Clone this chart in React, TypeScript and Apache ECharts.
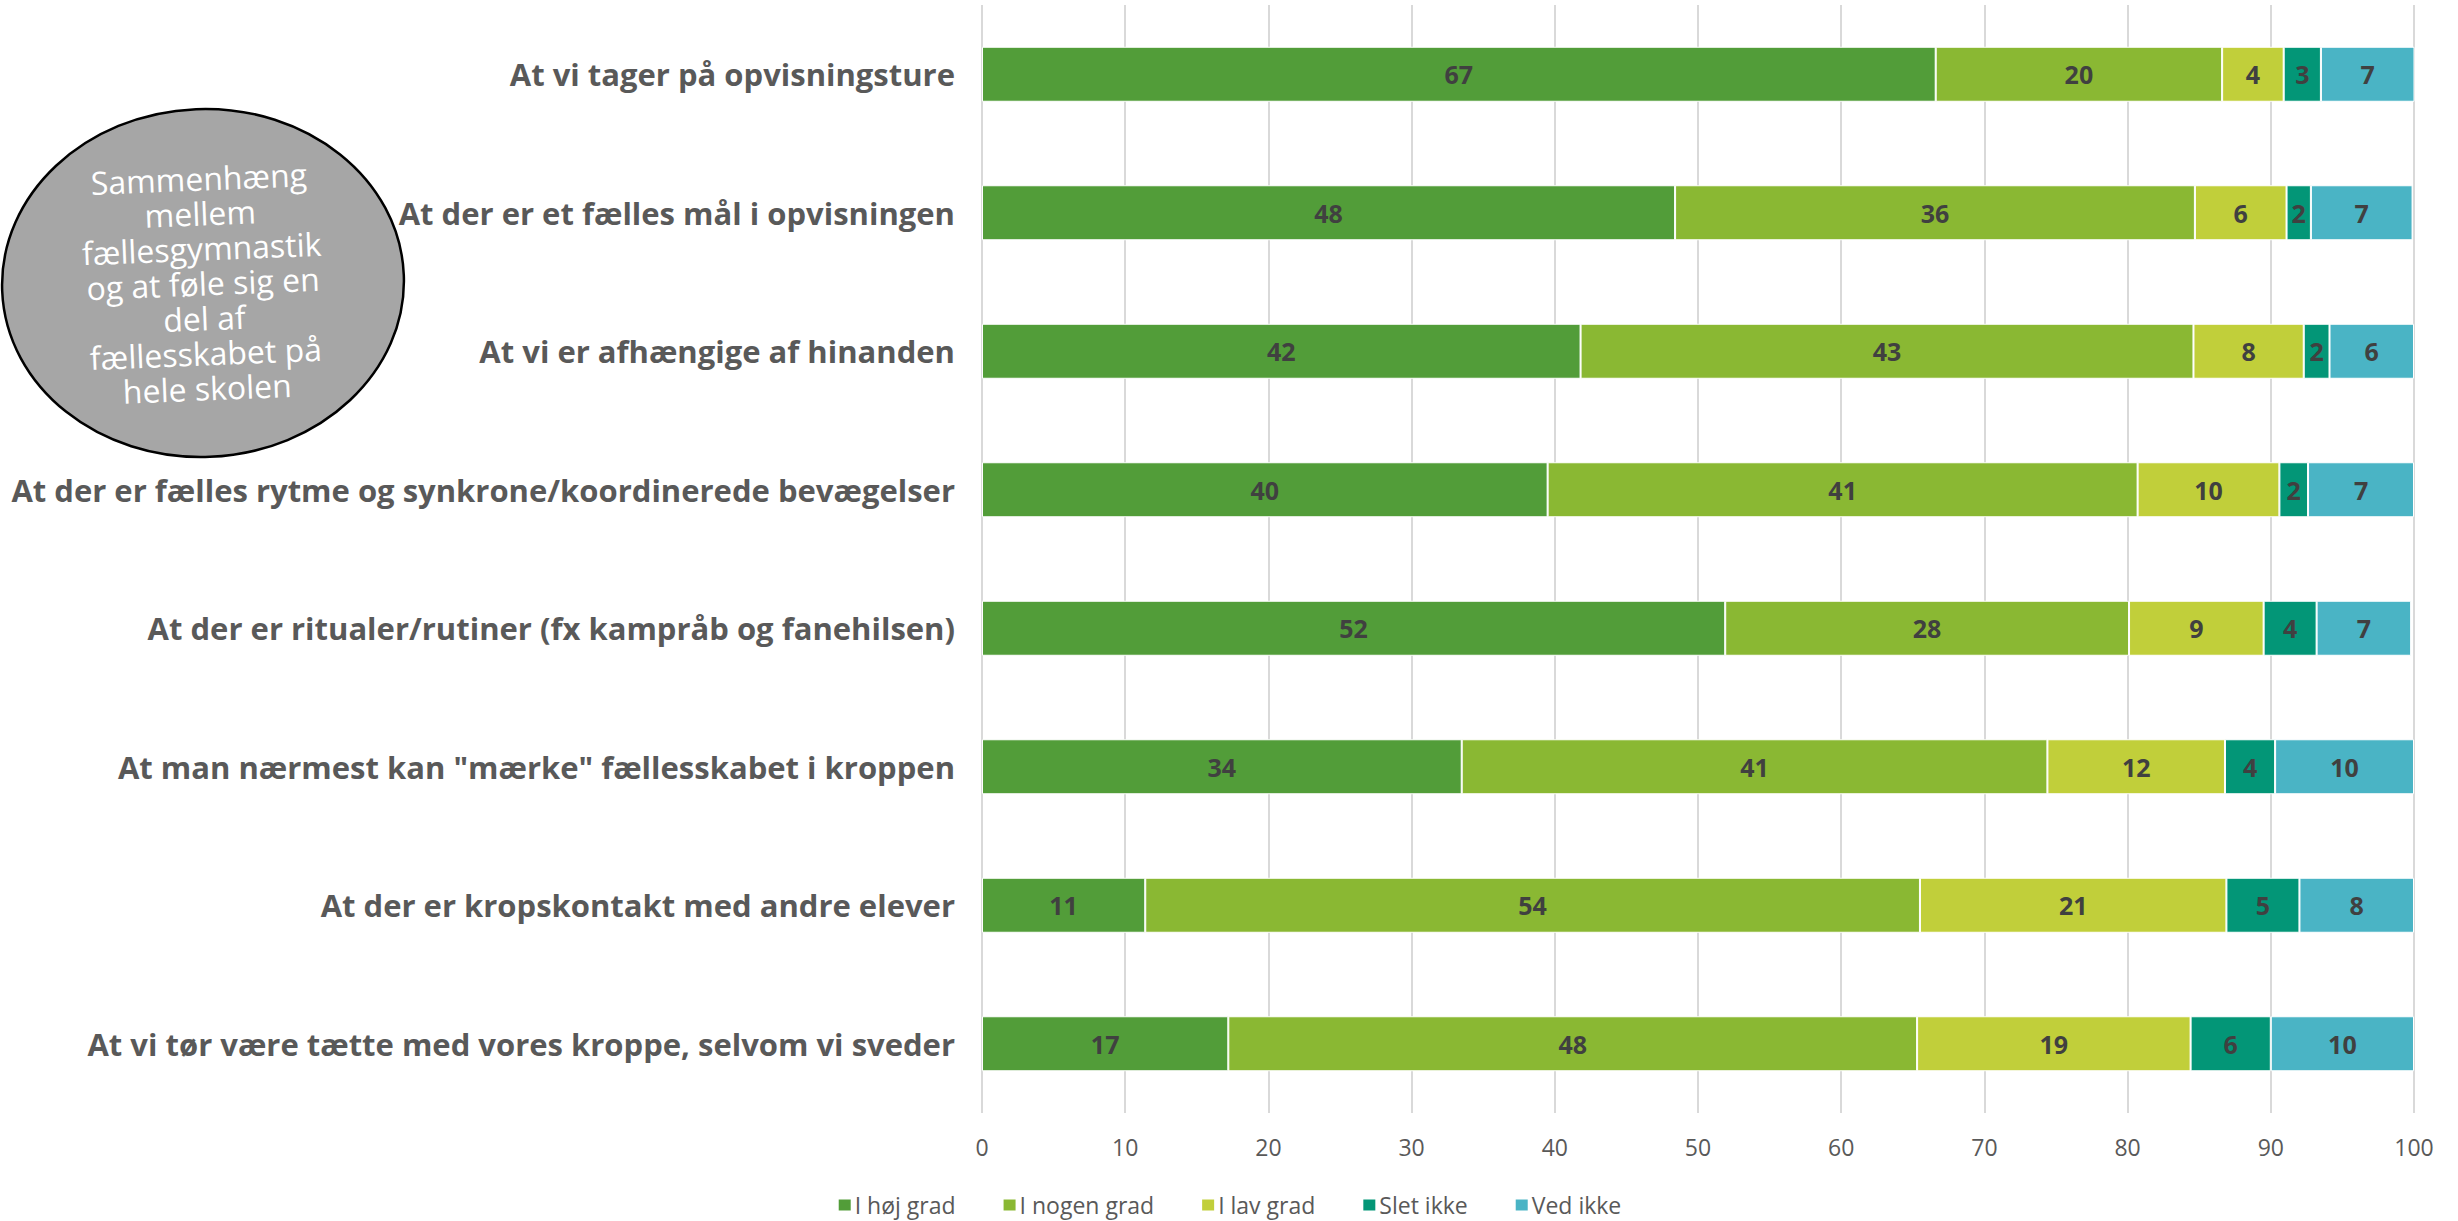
import React, { useEffect, useRef } from "react";
import * as echarts from "echarts";

const categories = [
  "At vi tager på opvisningsture",
  "At der er et fælles mål i opvisningen",
  "At vi er afhængige af hinanden",
  "At der er fælles rytme og synkrone/koordinerede bevægelser",
  "At der er ritualer/rutiner (fx kampråb og fanehilsen)",
  'At man nærmest kan "mærke" fællesskabet i kroppen',
  "At der er kropskontakt med andre elever",
  "At vi tør være tætte med vores kroppe, selvom vi sveder",
];

const seriesNames = ["I høj grad", "I nogen grad", "I lav grad", "Slet ikke", "Ved ikke"];

const hojGrad = [66.6, 48.4, 41.8, 39.5, 51.9, 33.5, 11.4, 17.2];
const nogenGrad = [20.0, 36.3, 42.8, 41.2, 28.2, 40.9, 54.1, 48.1];
const lavGrad = [4.3, 6.4, 7.7, 9.9, 9.4, 12.4, 21.4, 19.1];
const sletIkke = [2.6, 1.7, 1.8, 2.0, 3.7, 3.5, 5.1, 5.6];
const vedIkke = [6.6, 7.1, 5.9, 7.4, 6.6, 9.7, 8.0, 10.0];

const xTicks = { min: 0, max: 100, interval: 10 };

const colors = ["#529D39", "#8AB833", "#C1CF3A", "#039677", "#4AB4C5"];

const bubbleText =
  "Sammenhæng\nmellem\nfællesgymnastik\nog at føle sig en\ndel af\nfællesskabet på\nhele skolen";

const FONT = "'Open Sans', 'DejaVu Sans', sans-serif";

export default function App() {
  const ref = useRef<HTMLDivElement>(null);

  useEffect(() => {
    if (!ref.current) return;
    const chart = echarts.init(ref.current, null, { renderer: "svg" });
    const allData = [hojGrad, nogenGrad, lavGrad, sletIkke, vedIkke];

    chart.setOption({
      animation: false,
      backgroundColor: "#ffffff",
      textStyle: { fontFamily: FONT },
      color: colors,
      grid: { left: 982, right: 44, top: 5, bottom: 108, containLabel: false },
      legend: {
        top: 1192,
        left: "center",
        padding: 0,
        itemWidth: 14,
        itemHeight: 13,
        itemGap: 46,
        icon: "rect",
        textStyle: {
          fontSize: 23,
          lineHeight: 26,
          color: "#595959",
          fontFamily: FONT,
          padding: [0, 0, 0, -2],
        },
        data: seriesNames,
      },
      xAxis: {
        type: "value",
        min: xTicks.min,
        max: xTicks.max,
        interval: xTicks.interval,
        axisLine: { show: false },
        axisTick: { show: false },
        axisLabel: { fontSize: 23, color: "#595959", margin: 22, fontFamily: FONT },
        splitLine: { show: true, lineStyle: { color: "#D9D9D9", width: 2 } },
      },
      yAxis: {
        type: "category",
        inverse: true,
        data: categories,
        axisLine: { show: false },
        axisTick: { show: false },
        axisLabel: {
          fontSize: 31,
          fontWeight: "bold",
          color: "#595959",
          margin: 27,
          fontFamily: FONT,
        },
        splitLine: { show: false },
      },
      series: seriesNames.map((name, i) => ({
        name,
        type: "bar",
        stack: "total",
        barWidth: 55,
        data: allData[i],
        itemStyle: { color: colors[i], borderColor: "#ffffff", borderWidth: 1 },
        label: {
          show: true,
          position: "inside",
          fontSize: 25,
          fontWeight: "bold",
          color: "#404040",
          fontFamily: FONT,
          formatter: (p: any) => String(Math.round(p.value)),
        },
      })),
      graphic: [
        {
          type: "group",
          x: 203,
          y: 283,
          rotation: 0.04,
          children: [
            {
              type: "ellipse",
              shape: { cx: 0, cy: 0, rx: 201, ry: 174 },
              style: { fill: "#A6A6A6", stroke: "#000000", lineWidth: 2.5 },
            },
            {
              type: "text",
              x: 0,
              y: 0,
              style: {
                text: bubbleText,
                fill: "#ffffff",
                fontSize: 32,
                lineHeight: 35,
                fontFamily: FONT,
                align: "center",
                verticalAlign: "middle",
              },
            },
          ],
        },
      ],
    });

    return () => chart.dispose();
  }, []);

  return (
    <div
      ref={ref}
      style={{ position: "fixed", left: 0, top: 0, width: 2458, height: 1221 }}
    />
  );
}
